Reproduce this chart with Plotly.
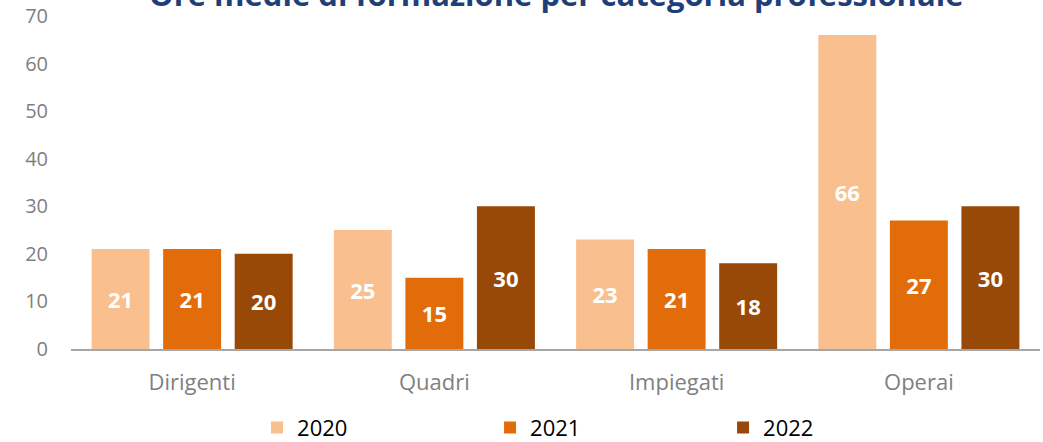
import plotly.graph_objects as go

# dati
categorie = ["Dirigenti", "Quadri", "Impiegati", "Operai"]
anni = ["2020", "2021", "2022"]
ore_2020 = [21, 25, 23, 66]
ore_2021 = [21, 15, 21, 27]
ore_2022 = [20, 30, 18, 30]
y_ticks = [0, 10, 20, 30, 40, 50, 60, 70]

colori = ["#F9BF8F", "#E36C0A", "#984807"]
serie = [ore_2020, ore_2021, ore_2022]

fig = go.Figure()

for anno, valori, colore in zip(anni, serie, colori):
    fig.add_trace(go.Bar(
        x=categorie, y=valori, name=anno,
        marker=dict(color=colore, line=dict(width=0)),
        text=valori, textposition="inside", insidetextanchor="middle",
        textfont=dict(family="Open Sans", size=22, color="white", weight="bold"),
        textangle=0, cliponaxis=False))

# titolo (tagliato in alto come nell'originale)
fig.add_annotation(
    text="<b>Ore medie di formazione per categoria professionale</b>",
    xref="paper", yref="paper", x=0.5, y=1, yanchor="bottom", yshift=-1,
    showarrow=False,
    font=dict(family="Open Sans", size=31, color="#1F3F79"))

fig.update_layout(
    barmode="group", bargap=0.114, bargroupgap=0.19,
    width=1043, height=442,
    margin=dict(l=71, r=3, t=16, b=93, autoexpand=False),
    plot_bgcolor="white", paper_bgcolor="white",
    font=dict(family="Open Sans", color="#7F7F7F"),
    xaxis=dict(showline=True, linecolor="#A6A6A6", linewidth=2,
               ticks="", tickfont=dict(size=22, color="#7F7F7F"),
               ticklabelstandoff=13),
    yaxis=dict(range=[0, 70], tickvals=y_ticks, showgrid=False,
               zeroline=False, showline=False,
               tickfont=dict(size=20, color="#7F7F7F"),
               ticklabelstandoff=22),
    legend=dict(orientation="h", x=0.192, xanchor="left",
                y=-0.236, yanchor="middle",
                entrywidth=188, entrywidthmode="pixels",
                font=dict(size=22, color="#000000"),
                traceorder="normal"),
    showlegend=True)

# niente margine del body, così la figura parte da (0, 0)
fig.write_html("out.html", config={"displayModeBar": False},
               post_script="document.body.style.margin='0';")
